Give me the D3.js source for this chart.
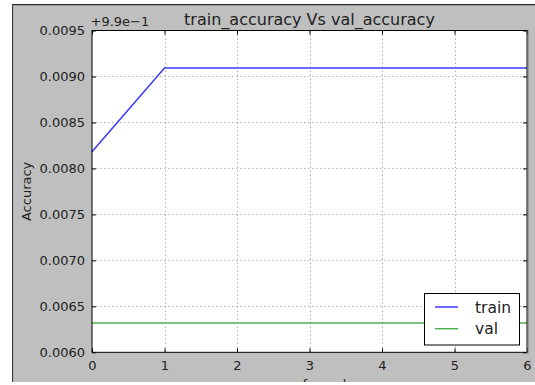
<!DOCTYPE html>
<html><head><meta charset="utf-8">
<script src="https://cdn.jsdelivr.net/npm/d3@7/dist/d3.min.js"></script>
<style>body{margin:0;background:#fff}svg{display:block}</style>
</head><body>
<script>
const epochs = [0, 1, 2, 3, 4, 5, 6];
const trainAcc = [0.998182, 0.999091, 0.999091, 0.999091, 0.999091, 0.999091, 0.999091];
const valAcc = [0.99632, 0.99632, 0.99632, 0.99632, 0.99632, 0.99632, 0.99632];
const yTicks = [0.9960, 0.9965, 0.9970, 0.9975, 0.9980, 0.9985, 0.9990, 0.9995];
const xTicks = [0, 1, 2, 3, 4, 5, 6];
const offset = 0.99;
const offsetLabel = "+9.9e\u22121";
const titleText = "train_accuracy Vs val_accuracy";
const xLabel = "num of epochs";
const yLabel = "Accuracy";
const seriesNames = ["train", "val"];
const seriesColors = ["#3a3aff", "#4caf50"];

const W = 535, H = 385;
const L = 92, R = 527, T = 30.5, B = 352.3;
const font = "DejaVu Sans, sans-serif";

const svg = d3.select("body").append("svg").attr("width", W).attr("height", H);
svg.append("defs").append("clipPath").attr("id", "figclip")
  .append("rect").attr("x", 12).attr("y", 4).attr("width", W - 12).attr("height", 378);

const fig = svg.append("g").attr("clip-path", "url(#figclip)");
fig.append("rect").attr("x", 12).attr("y", 4).attr("width", W - 12).attr("height", 378).attr("fill", "#bfbfbf");
fig.append("line").attr("x1", 12).attr("x2", W).attr("y1", 4.5).attr("y2", 4.5).attr("stroke", "#2a2a2a").attr("stroke-width", 1.5);
fig.append("line").attr("x1", 12.5).attr("x2", 12.5).attr("y1", 4).attr("y2", 382).attr("stroke", "#3a3a3a").attr("stroke-width", 1.2);

const x = d3.scaleLinear().domain([0, 6]).range([L, R]);
const y = d3.scaleLinear().domain([0.9960, 0.9995]).range([B, T]);

fig.append("rect").attr("x", L).attr("y", T).attr("width", R - L).attr("height", B - T).attr("fill", "#fff");

// grid
const grid = fig.append("g").attr("stroke", "#999").attr("stroke-width", 0.8).attr("stroke-dasharray", "1.5,2.5");
grid.selectAll(".gx").data(xTicks.slice(1, -1)).join("line")
  .attr("x1", d => Math.round(x(d)) + 0.5).attr("x2", d => Math.round(x(d)) + 0.5).attr("y1", T).attr("y2", B);
grid.selectAll(".gy").data(yTicks.slice(1, -1)).join("line")
  .attr("y1", d => y(d)).attr("y2", d => y(d)).attr("x1", L).attr("x2", R);

// lines
const lineGen = d3.line().x((d, i) => x(epochs[i])).y(d => y(d));
[trainAcc, valAcc].forEach((s, k) => {
  fig.append("path").datum(s).attr("d", lineGen).attr("fill", "none")
    .attr("stroke", seriesColors[k]).attr("stroke-width", 1.5);
});

// axes (ticks inside)
const fmt = d => (d - offset).toFixed(4);
const axL = fig.append("g").attr("transform", `translate(${L},0)`)
  .call(d3.axisLeft(y).tickValues(yTicks).tickFormat(fmt).tickSizeInner(-4).tickSizeOuter(0).tickPadding(7));
const axR = fig.append("g").attr("transform", `translate(${R},0)`)
  .call(d3.axisRight(y).tickValues(yTicks).tickFormat("").tickSizeInner(-4).tickSizeOuter(0));
const axB = fig.append("g").attr("transform", `translate(0,${B})`)
  .call(d3.axisBottom(x).tickValues(xTicks).tickFormat(d3.format("d")).tickSizeInner(-4).tickSizeOuter(0).tickPadding(8));
const axT = fig.append("g").attr("transform", `translate(0,${T})`)
  .call(d3.axisTop(x).tickValues(xTicks).tickFormat("").tickSizeInner(-4).tickSizeOuter(0));
[axL, axR, axB, axT].forEach(a => {
  a.select(".domain").remove();
  a.selectAll("text").attr("font-family", font).attr("font-size", 13).attr("fill", "#222");
  a.selectAll("line").attr("stroke", "#000");
});

// frame
fig.append("rect").attr("x", L).attr("y", T).attr("width", R - L).attr("height", B - T)
  .attr("fill", "none").attr("stroke", "#000").attr("stroke-width", 1);
fig.append("line").attr("x1", R + 1).attr("x2", R + 1).attr("y1", T).attr("y2", B + 1).attr("stroke", "#777").attr("stroke-width", 1);

// title, offset, labels
fig.append("text").attr("x", (L + R) / 2).attr("y", 25).attr("text-anchor", "middle")
  .attr("font-family", font).attr("font-size", 16).attr("fill", "#222").text(titleText);
fig.append("text").attr("x", 90.5).attr("y", 26).attr("font-family", font).attr("font-size", 13).attr("fill", "#222").text(offsetLabel);
fig.append("text").attr("transform", `translate(31,${(T + B) / 2}) rotate(-90)`).attr("text-anchor", "middle")
  .attr("font-family", font).attr("font-size", 13).attr("fill", "#222").text(yLabel);
fig.append("text").attr("x", (L + R) / 2).attr("y", 389).attr("text-anchor", "middle")
  .attr("font-family", font).attr("font-size", 13).attr("fill", "#222").text(xLabel);

// legend
const lg = fig.append("g");
lg.append("rect").attr("x", 424.5).attr("y", 293.5).attr("width", 95).attr("height", 51.5)
  .attr("fill", "#fff").attr("stroke", "#000").attr("stroke-width", 1);
seriesNames.forEach((n, k) => {
  const yy = 307 + k * 21.7;
  lg.append("line").attr("x1", 435).attr("x2", 458).attr("y1", yy).attr("y2", yy).attr("stroke", seriesColors[k]).attr("stroke-width", 1.5);
  lg.append("text").attr("x", 475).attr("y", yy + 5.5).attr("font-family", font).attr("font-size", 15.5).attr("fill", "#222").text(n);
});
</script>
</body></html>
